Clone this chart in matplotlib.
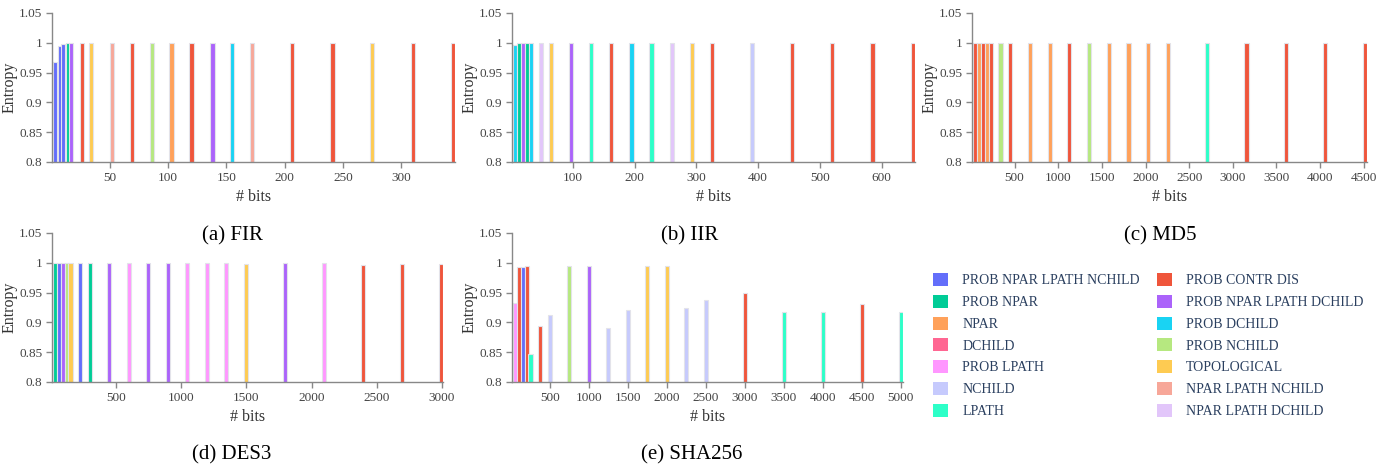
import matplotlib.pyplot as plt
from matplotlib.patches import Patch
from matplotlib.ticker import FuncFormatter

plt.rcParams['font.family'] = ['Liberation Serif', 'DejaVu Serif']

# method names and colours (plotly-like palette)
PNLN = 'PROB NPAR LPATH NCHILD'
PCD = 'PROB CONTR DIS'
PN = 'PROB NPAR'
PNLD = 'PROB NPAR LPATH DCHILD'
NPAR = 'NPAR'
PDC = 'PROB DCHILD'
DCH = 'DCHILD'
PNC = 'PROB NCHILD'
PLP = 'PROB LPATH'
TOP = 'TOPOLOGICAL'
NCH = 'NCHILD'
NLN = 'NPAR LPATH NCHILD'
LP = 'LPATH'
NLD = 'NPAR LPATH DCHILD'

colors = {
    PNLN: '#636EFA', PCD: '#EF553B', PN: '#00CC96', PNLD: '#AB63FA',
    NPAR: '#FFA15A', PDC: '#19D3F3', DCH: '#FF6692', PNC: '#B6E880',
    PLP: '#FF97FF', TOP: '#FECB52', NCH: '#C6CAFD', NLN: '#F7A799',
    LP: '#2DFFC8', NLD: '#E2C6FA',
}
legend_col1 = [PNLN, PN, NPAR, DCH, PLP, NCH, LP]
legend_col2 = [PCD, PNLD, PDC, PNC, TOP, NLN, NLD]

# FIR
fir_bits = [3, 7, 10, 14, 17, 26, 34, 52, 69, 86, 103, 120, 138, 155, 172, 206, 241, 275, 310, 344]
fir_entropy = [0.967, 0.995, 0.998, 1.0, 1.0, 0.999, 0.999, 0.999, 1.0, 0.999,
               0.999, 0.999, 1.0, 0.999, 0.999, 0.999, 0.999, 0.999, 0.999, 0.999]
fir_method = [PNLN, PNLN, PNLN, PN, PNLD, PCD, TOP, NLN, PCD, PNC,
              NPAR, PCD, PNLD, PDC, NLN, PCD, PCD, TOP, PCD, PCD]
fir_ticks = [50, 100, 150, 200, 250, 300]

# IIR
iir_bits = [6.5, 13, 19.5, 26, 32.5, 49, 65, 97.5, 130, 162.5, 195, 227.5, 260, 292.5, 325, 390, 455, 520, 585, 650]
iir_entropy = [0.997, 1.0, 0.999, 0.999, 1.0, 1.0, 1.0, 0.999, 1.0, 0.999,
               0.999, 0.999, 1.0, 1.0, 0.999, 0.999, 0.999, 0.999, 0.999, 0.999]
iir_method = [PDC, PN, PNLD, PN, PDC, NLD, TOP, PNLD, LP, PCD,
              PDC, LP, NLD, TOP, PCD, NCH, PCD, PCD, PCD, PCD]
iir_ticks = [100, 200, 300, 400, 500, 600]

# MD5
md5_bits = [45, 90, 135, 180, 226, 338, 451, 677, 902, 1128, 1354, 1579, 1805, 2030, 2256, 2707, 3158, 3610, 4061, 4512]
md5_entropy = [1.0, 1.0, 1.0, 1.0, 1.0, 1.0, 1.0, 1.0, 1.0, 1.0,
               1.0, 1.0, 0.999, 1.0, 1.0, 1.0, 1.0, 1.0, 1.0, 1.0]
md5_method = [PCD, NPAR, PCD, NPAR, PCD, PNC, PCD, NPAR, NPAR, PCD,
              PNC, NPAR, NPAR, NPAR, NPAR, LP, PCD, PCD, PCD, PCD]
md5_ticks = [500, 1000, 1500, 2000, 2500, 3000, 3500, 4000, 4500]

# DES3
des_bits = [30, 60, 90, 120, 150, 224, 299, 449, 598, 748, 897, 1047, 1196, 1346, 1496, 1795, 2094, 2394, 2693, 2992]
des_entropy = [1.0, 1.0, 1.0, 1.0, 1.0, 1.0, 1.0, 1.0, 1.0, 1.0,
               1.0, 1.0, 1.0, 1.0, 0.998, 1.0, 0.999, 0.997, 0.998, 0.998]
des_method = [PN, PNLN, PNLD, PNC, TOP, PNLN, PN, PNLD, PLP, PNLD,
              PNLD, PLP, PLP, PLP, TOP, PNLD, PLP, PCD, PCD, PCD]
des_ticks = [500, 1000, 1500, 2000, 2500, 3000]

# SHA256
sha_bits = [50, 100, 150, 200, 250, 375, 500, 750, 1000, 1250, 1500, 1750, 2000, 2250, 2500, 3000, 3500, 4000, 4500, 5000]
sha_entropy = [0.932, 0.993, 0.993, 0.994, 0.847, 0.894, 0.912, 0.994, 0.994, 0.890,
               0.921, 0.994, 0.994, 0.924, 0.938, 0.950, 0.917, 0.917, 0.931, 0.917]
sha_method = [PLP, PCD, PNLN, PCD, LP, PCD, NCH, PNC, PNLD, NCH,
              NCH, TOP, TOP, NCH, NCH, PCD, LP, LP, PCD, LP]
sha_ticks = [500, 1000, 1500, 2000, 2500, 3000, 3500, 4000, 4500, 5000]

y_ticks = [0.8, 0.85, 0.9, 0.95, 1.0, 1.05]

W, H = 1396, 472
fig = plt.figure(figsize=(W / 100, H / 100), dpi=100)


def px_axes(left, right, top, bottom):
    return fig.add_axes([left / W, 1 - bottom / H, (right - left) / W, (bottom - top) / H])


panels = [
    (fir_bits, fir_entropy, fir_method, fir_ticks, (52, 455, 13, 162), '(a) FIR', (232, 236)),
    (iir_bits, iir_entropy, iir_method, iir_ticks, (512, 915, 13, 162), '(b) IIR', (690, 236)),
    (md5_bits, md5_entropy, md5_method, md5_ticks, (972, 1367, 13, 162), '(c) MD5', (1160, 236)),
    (des_bits, des_entropy, des_method, des_ticks, (52, 443, 233, 382), '(d) DES3', (232, 455)),
    (sha_bits, sha_entropy, sha_method, sha_ticks, (512, 903, 233, 382), '(e) SHA256', (692, 455)),
]

for bits, ent, meth, ticks, box, caption, cap_pos in panels:
    ax = px_axes(*box)
    w = 0.0105 * max(bits)
    ax.bar(bits, ent, width=w, color=[colors[m] for m in meth],
           edgecolor='#E3E3EA', linewidth=0.8)
    ax.set_xlim(bits[0] - w * 0.7, bits[-1] + w * 0.55)
    ax.set_ylim(0.8, 1.05)
    ax.set_xticks(ticks)
    ax.set_yticks(y_ticks)
    ax.yaxis.set_major_formatter(FuncFormatter(lambda v, p: '{:g}'.format(round(v, 2))))
    for s in ['top', 'right']:
        ax.spines[s].set_visible(False)
    for s in ['left', 'bottom']:
        ax.spines[s].set_color('#888888')
        ax.spines[s].set_linewidth(1)
    ax.tick_params(colors='#888888', labelcolor='#444444', labelsize=9.5,
                   length=4, width=1, pad=3)
    ax.set_xlabel('# bits', fontsize=11.5, color='#333333', labelpad=4)
    ax.set_ylabel('Entropy', fontsize=11.5, color='#333333')
    ax.yaxis.set_label_coords(-34 / (box[1] - box[0]), 0.5)
    fig.text(cap_pos[0] / W, 1 - cap_pos[1] / H, caption, fontsize=15,
             ha='center', va='center', color='black')

for names, x0 in [(legend_col1, 933), (legend_col2, 1157)]:
    handles = [Patch(facecolor=colors[n], edgecolor='none', label=n) for n in names]
    leg = fig.legend(handles=handles, loc='upper left',
                     bbox_to_anchor=(x0 / W, 1 - 273 / H), frameon=False,
                     fontsize=10, handlelength=1.05, handleheight=1.05,
                     handletextpad=1.05, labelspacing=0.55, borderpad=0,
                     borderaxespad=0)
    for t in leg.get_texts():
        t.set_color('#2A3F5F')

fig.savefig('out.png', dpi=100)
